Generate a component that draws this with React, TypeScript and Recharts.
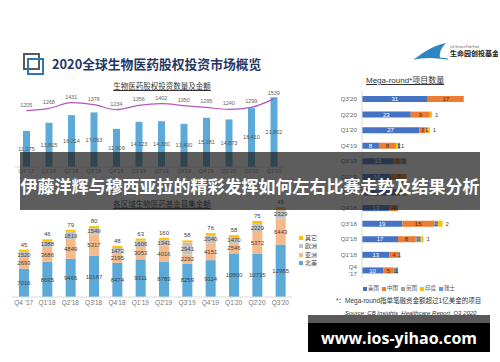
import React from 'react';
import { ComposedChart, BarChart, Bar, Line, XAxis, YAxis, LabelList } from 'recharts';

const quarters = ["Q4 '17", "Q1'18", "Q2'18", "Q3'18", "Q4'18", "Q1'19", "Q2'19", "Q3'19", "Q4'19", "Q1'20", "Q2'20", "Q3'20"];

// 生物医药股权投资数量及金额
const dealCount = [1205, 1268, 1431, 1376, 1234, 1356, 1402, 1350, 1295, 1240, 1299, 1539];
const dealAmount = [11275, 13815, 16214, 17063, 11909, 14123, 14330, 13490, 15381, 14873, 18410, 21802];

// 各区域生物医药基金募集金额
const fundNorthAmerica = [7016, 8695, 9466, 10167, 8474, 9311, 8783, 8259, 9114, 10800, 10735, 12985];
const fundAsia = [2693, 3686, 4849, 5317, 2195, 3053, 4016, 2292, 4151, 2546, 5372, 6443];
const fundEurope = [1520, 1388, 1819, 1549, 1472, 1606, 1341, 2941, 2040, 1470, 2229, 2329];
const fundOther = [45, 46, 79, 80, 48, 63, 160, 58, 76, 58, 75, 45];

// Mega-round 项目数量
const megaUS = [10, 13, 17, 19, 13, 16, 14, 15, 8, 27, 23, 31];
const megaChina = [5, 4, 8, 15, 4, 5, 7, 3, 8, 3, 9, 17];
const megaUK = [1, 1, 3, 2, 0, 0, 0, 3, 0, 1, 0, 0];
const megaIndia = [0, 0, 1, 2, 0, 0, 0, 0, 1, 1, 1, 0];
const megaSwiss = [1, 0, 0, 0, 0, 0, 0, 0, 1, 0, 0, 0];

const dealData = quarters.map((q, i) => ({ q, count: dealCount[i], amount: dealAmount[i] }));
const fundData = quarters.map((q, i) => ({
  q, na: fundNorthAmerica[i], asia: fundAsia[i], eu: fundEurope[i], other: fundOther[i],
}));
const megaData = quarters.map((q, i) => ({
  q, us: megaUS[i], cn: megaChina[i], uk: megaUK[i], in: megaIndia[i], ch: megaSwiss[i],
}));

const fundColors = { na: '#5BAAD8', asia: '#F6B98B', eu: '#C3C3C3', other: '#FFC000' };
const megaColors = { us: '#4472C4', cn: '#ED7D31', uk: '#A5A5A5', in: '#FFC000', ch: '#5B9BD5' };

const comma = (v: any) => Number(v).toLocaleString('en-US');
const hideZero = (v: any) => (v ? v : '');

const abs = (x: number, y: number, extra: React.CSSProperties = {}): React.CSSProperties => ({
  position: 'absolute', left: x, top: y, whiteSpace: 'nowrap', lineHeight: 1, ...extra,
});

function Sub({ x, y, children }: { x: number; y: number; children: React.ReactNode }) {
  return (
    <div style={abs(x, y, { fontSize: 7.5, color: '#333', textDecoration: 'underline', transform: 'translateX(-50%)' })}>
      {children}
    </div>
  );
}

export default function App() {
  return (
    <div style={{
      position: 'absolute', left: 0, top: 0, width: 500, height: 362, background: '#fff', overflow: 'hidden',
      fontFamily: "'Liberation Sans', 'Noto Sans CJK SC', sans-serif",
    }}>
      {/* title icon + title */}
      <div style={abs(23, 53, { width: 13, height: 13, border: '2px solid #595959' })} />
      <div style={abs(27, 58, { width: 13, height: 13, border: '2px solid #2E75B6' })} />
      <div style={abs(52, 58, { fontSize: 12.8, fontWeight: 700, color: '#1F3864', fontFamily: "'Noto Sans CJK SC', sans-serif" })}>
        2020全球生物医药股权投资市场概览
      </div>

      {/* logo */}
      <svg style={abs(414, 40)} width={84} height={22}>
        <path d="M2 18 C10 12 18 6 32 3 C27 8 25 13 26 18 Z" fill="#2E86C1" />
        <path d="M0 19 C8 17 20 17 34 19" stroke="#2E86C1" strokeWidth={1.2} fill="none" />
        <text x={36} y={8} fontSize={2.8} fill="#555">Life Science Park Fund</text>
        <text x={36} y={16} fontSize={7} fontWeight={700} fill="#222">生命园创投基金</text>
      </svg>

      {/* chart 1 */}
      <Sub x={162} y={83}>生物医药股权投资数量及金额</Sub>
      <div style={abs(0, 80)}>
        <ComposedChart width={300} height={100} data={dealData} margin={{ top: 15, right: 15, left: 15, bottom: 0 }}>
          <XAxis dataKey="q" interval={0} height={13} tickSize={0} tickMargin={2}
            tick={{ fontSize: 5.5, fill: '#888' }} axisLine={{ stroke: '#D9D9D9' }} tickLine={false} />
          <YAxis yAxisId="amt" hide domain={[0, 22500]} />
          <YAxis yAxisId="cnt" hide domain={[-400, 1650]} />
          <Bar yAxisId="amt" dataKey="amount" fill="#5BAAD8" barSize={7} isAnimationActive={false}>
            <LabelList dataKey="amount" position="center" formatter={comma} style={{ fontSize: 5.5, fill: '#555' }} />
          </Bar>
          <Line yAxisId="cnt" dataKey="count" type="monotone" stroke="#B455C0" strokeWidth={1.2} dot={false} isAnimationActive={false}>
            <LabelList dataKey="count" position="top" offset={4} style={{ fontSize: 5.5, fill: '#666' }} />
          </Line>
        </ComposedChart>
      </div>

      {/* chart 2 */}
      <Sub x={162} y={201}>各区域生物医药基金募集金额</Sub>
      <div style={abs(0, 195)}>
        <BarChart width={305} height={115} data={fundData} margin={{ top: 5, right: 13, left: 12, bottom: 0 }}>
          <XAxis dataKey="q" interval={0} height={13} tickSize={0} tickMargin={3}
            tick={{ fontSize: 6.5, fill: '#777' }} axisLine={{ stroke: '#D9D9D9' }} tickLine={false} />
          <YAxis hide domain={[0, 24000]} />
          <Bar dataKey="na" stackId="f" fill={fundColors.na} barSize={10} isAnimationActive={false}>
            <LabelList dataKey="na" position="center" style={{ fontSize: 6, fill: '#444' }} />
          </Bar>
          <Bar dataKey="asia" stackId="f" fill={fundColors.asia} barSize={10} isAnimationActive={false}>
            <LabelList dataKey="asia" position="center" style={{ fontSize: 6, fill: '#444' }} />
          </Bar>
          <Bar dataKey="eu" stackId="f" fill={fundColors.eu} barSize={10} isAnimationActive={false}>
            <LabelList dataKey="eu" position="center" style={{ fontSize: 6, fill: '#444' }} />
          </Bar>
          <Bar dataKey="other" stackId="f" fill={fundColors.other} barSize={10} minPointSize={2} isAnimationActive={false}>
            <LabelList dataKey="other" position="top" offset={3} style={{ fontSize: 6, fill: '#444' }} />
          </Bar>
        </BarChart>
      </div>
      {[['其它', fundColors.other], ['欧洲', fundColors.eu], ['亚洲', fundColors.asia], ['北美', fundColors.na]].map(([name, c], i) => (
        <div key={name} style={abs(299, 235 + i * 8.3, { fontSize: 6, color: '#444', display: 'flex', alignItems: 'center' })}>
          <span style={{ display: 'inline-block', width: 4, height: 4, background: c, marginRight: 2 }} />
          {name}
        </div>
      ))}

      {/* chart 3 */}
      <div style={abs(366, 77, { fontSize: 8, color: '#333', textDecoration: 'underline' })}>Mega-round*项目数量</div>
      <div style={abs(320, 85)}>
        <BarChart layout="vertical" width={160} height={200} data={megaData} margin={{ top: 6, right: 12, left: 0, bottom: 7 }}>
          <XAxis type="number" hide domain={[0, 50]} />
          <YAxis type="category" dataKey="q" reversed width={42} interval={0} tickSize={0} tickMargin={5}
            tick={{ fontSize: 6.2, fill: '#666' }} axisLine={{ stroke: '#D9D9D9' }} tickLine={false} />
          <Bar dataKey="us" stackId="m" fill={megaColors.us} barSize={6} isAnimationActive={false}>
            <LabelList dataKey="us" position="center" formatter={hideZero} style={{ fontSize: 6, fill: '#fff' }} />
          </Bar>
          <Bar dataKey="cn" stackId="m" fill={megaColors.cn} barSize={6} isAnimationActive={false}>
            <LabelList dataKey="cn" position="center" formatter={hideZero} style={{ fontSize: 6, fill: '#333' }} />
          </Bar>
          <Bar dataKey="uk" stackId="m" fill={megaColors.uk} barSize={6} isAnimationActive={false}>
            <LabelList dataKey="uk" position="center" formatter={hideZero} style={{ fontSize: 6, fill: '#333' }} />
          </Bar>
          <Bar dataKey="in" stackId="m" fill={megaColors.in} barSize={6} isAnimationActive={false}>
            <LabelList dataKey="in" position="right" offset={3} formatter={hideZero} style={{ fontSize: 6, fill: '#444' }} />
          </Bar>
          <Bar dataKey="ch" stackId="m" fill={megaColors.ch} barSize={6} isAnimationActive={false}>
            <LabelList dataKey="ch" position="center" formatter={hideZero} style={{ fontSize: 6, fill: '#333' }} />
          </Bar>
        </BarChart>
      </div>
      <div style={abs(363, 286, { fontSize: 5.5, color: '#555', display: 'flex', gap: 3 })}>
        {[['美国', megaColors.us], ['中国', megaColors.cn], ['英国', megaColors.uk], ['印度', megaColors.in], ['瑞士', megaColors.ch]].map(([name, c]) => (
          <span key={name} style={{ display: 'flex', alignItems: 'center' }}>
            <span style={{ display: 'inline-block', width: 3.5, height: 3.5, background: c, marginRight: 1.5 }} />
            {name}
          </span>
        ))}
      </div>
      <div style={abs(336, 298, { fontSize: 6.5, color: '#333' })}>*：Mega-round指单笔融资金额超过1亿美金的项目</div>
      <div style={abs(345, 310, { fontSize: 6, color: '#333', fontStyle: 'italic', textDecoration: 'underline' })}>
        Source: CB Insights_Healthcare Report_Q3 2020
      </div>

      {/* overlay banner */}
      <div style={abs(20, 152, { width: 460, height: 58, background: 'rgba(30,30,30,0.72)' })} />
      <div style={abs(250, 177, {
        transform: 'translateX(-50%)', fontSize: 17, fontWeight: 700, color: '#fff',
        fontFamily: "'Noto Sans CJK SC', sans-serif",
      })}>
        伊藤洋辉与穆西亚拉的精彩发挥如何左右比赛走势及结果分析
      </div>

      {/* watermark */}
      <div style={abs(308, 315, { width: 182, height: 8, background: '#5a5a5a' })} />
      <div style={abs(308, 323, {
        width: 182, height: 29, background: '#000', color: '#fff', fontSize: 16, fontWeight: 700,
        display: 'flex', alignItems: 'center', justifyContent: 'center', fontFamily: "'Open Sans', sans-serif",
      })}>
        www.ios-yihao.com
      </div>
    </div>
  );
}
